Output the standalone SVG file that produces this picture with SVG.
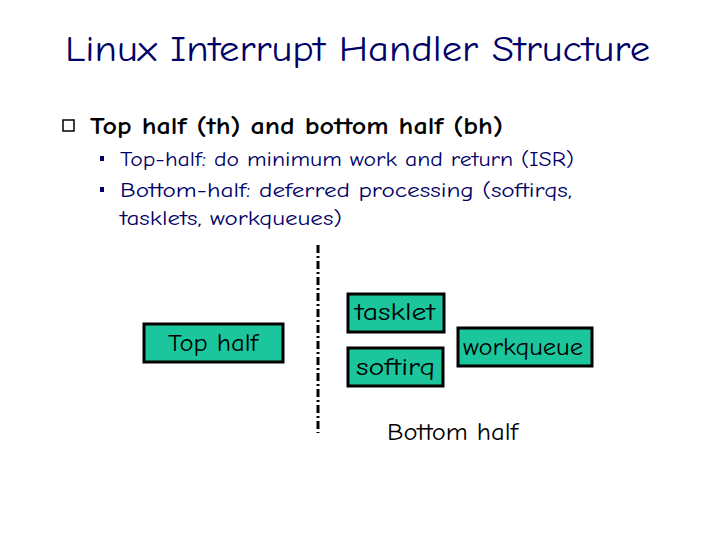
<svg xmlns="http://www.w3.org/2000/svg" width="720" height="540" viewBox="0 0 720 540">
<style>
text{font-family:"Comic Neue","DejaVu Sans","Liberation Sans",sans-serif}
.box{fill:#1bc69c;stroke:#000;stroke-width:3}
.lbl{font-size:24px;fill:#000}
.sub{font-size:21px;fill:#000066}
</style>
<rect width="720" height="540" fill="#fff"/>
<text x="65" y="61" font-size="36" fill="#000066" textLength="585" lengthAdjust="spacingAndGlyphs">Linux Interrupt Handler Structure</text>
<rect x="63" y="120" width="11" height="11" fill="none" stroke="#000" stroke-width="1.5"/>
<text x="90" y="134" font-size="25" font-weight="bold" fill="#000" textLength="413" lengthAdjust="spacingAndGlyphs">Top half (th) and bottom half (bh)</text>
<rect x="100" y="156" width="4" height="5" fill="#000066"/>
<rect x="100" y="187" width="4" height="5" fill="#000066"/>
<text class="sub" x="120" y="166" textLength="454" lengthAdjust="spacingAndGlyphs">Top-half: do minimum work and return (ISR)</text>
<text class="sub" x="120" y="197" textLength="452" lengthAdjust="spacingAndGlyphs">Bottom-half: deferred processing (softirqs,</text>
<text class="sub" x="120" y="225" textLength="222" lengthAdjust="spacingAndGlyphs">tasklets, workqueues)</text>
<g id="connectors"><line x1="318" y1="245" x2="318" y2="433" stroke="#000" stroke-width="3" stroke-dasharray="8,3,2,3"/></g>
<g id="tophalf"><rect class="box" x="144" y="324" width="139" height="38"/><text class="lbl" x="168" y="351" textLength="90" lengthAdjust="spacingAndGlyphs">Top half</text></g>
<g id="tasklet"><rect class="box" x="348" y="294" width="96" height="38"/><text class="lbl" x="355" y="320" textLength="80" lengthAdjust="spacingAndGlyphs">tasklet</text></g>
<g id="softirq"><rect class="box" x="348" y="348" width="95" height="38"/><text class="lbl" x="356" y="375" textLength="79" lengthAdjust="spacingAndGlyphs">softirq</text></g>
<g id="workqueue"><rect class="box" x="458" y="328" width="134" height="38"/><text class="lbl" x="463" y="355" textLength="120" lengthAdjust="spacingAndGlyphs">workqueue</text></g>
<text class="lbl" x="387" y="440" textLength="131" lengthAdjust="spacingAndGlyphs">Bottom half</text>
</svg>
